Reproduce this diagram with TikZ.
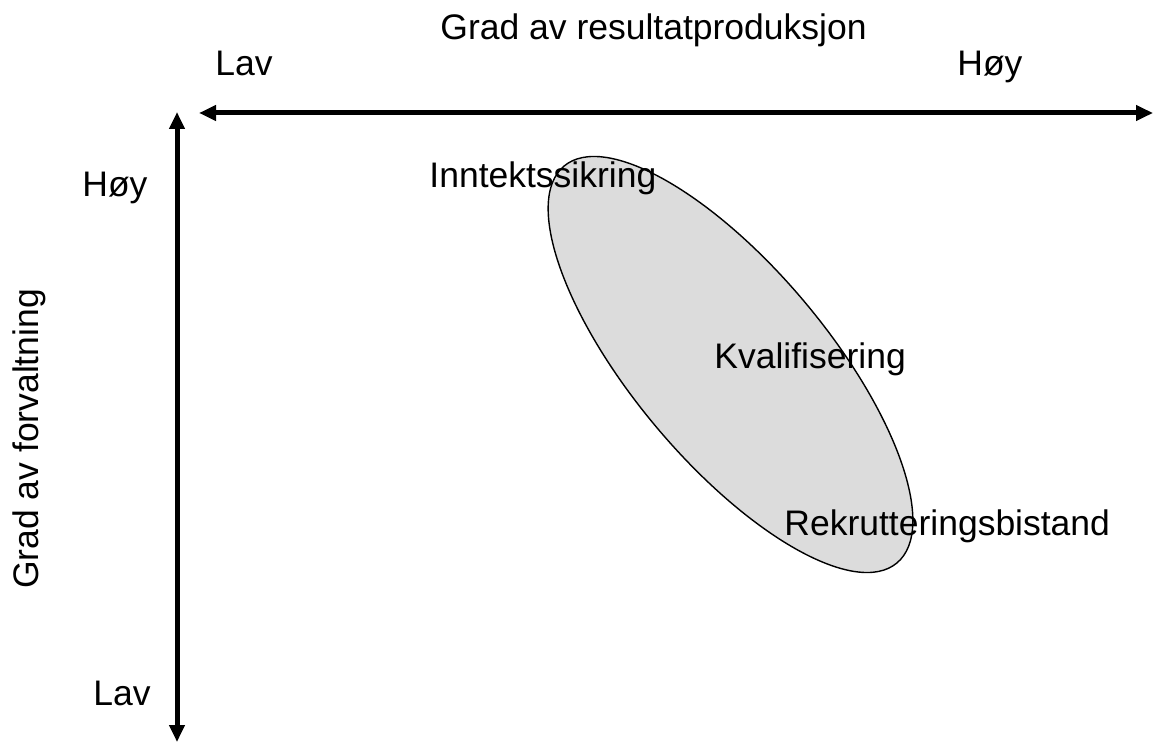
\documentclass[tikz,border=0pt]{standalone}
\usepackage{fontspec}
\setmainfont{Liberation Sans}
\usetikzlibrary{arrows.meta}
\definecolor{ovalgray}{RGB}{220,220,220}
\pgfdeclarelayer{bg}
\pgfsetlayers{bg,main}
\tikzset{
  lbl/.style={anchor=base west, inner sep=0pt, font=\fontsize{17.75}{21}\selectfont},
  axis/.style={line width=2.5pt, {Triangle[length=8.5pt,width=7.5pt]}-{Triangle[length=8.5pt,width=7.5pt]}}
}

\begin{document}
\begin{tikzpicture}[x=0.5pt, y=-0.5pt]
        \useasboundingbox (0,0) rectangle (1154,743);
        \coordinate (xl) at (199,113);
        \coordinate (xr) at (1153,113);
        \coordinate (yt) at (177,112);
        \coordinate (yb) at (177,742);
        \coordinate (oc) at (730.5,364.5);
        \node (tx) [lbl, anchor=base] at (653.5,40) {Grad av resultatproduksjon};
        \node (ty) [lbl, anchor=base, rotate=90] at (38,439) {Grad av forvaltning};
        \node (xlav) [lbl] at (215,76) {Lav};
        \node (xhoy) [lbl] at (957,76) {Høy};
        \node (yhoy) [lbl] at (82,197) {Høy};
        \node (ylav) [lbl] at (93,705) {Lav};
        \node (v0) [lbl] at (429,188) {Inntektssikring};
        \node (v1) [lbl] at (714,368) {Kvalifisering};
        \node (v2) [lbl] at (784,535) {Rekrutteringsbistand};
        \begin{pgfonlayer}{bg}
                \draw [fill=ovalgray, line width=0.7pt, rotate around={-50:(oc)}] (oc) ellipse (259 and 97);
                \draw [axis] (xl) -- (xr);
                \draw [axis] (yt) -- (yb);
        \end{pgfonlayer}
\end{tikzpicture}
\end{document}
